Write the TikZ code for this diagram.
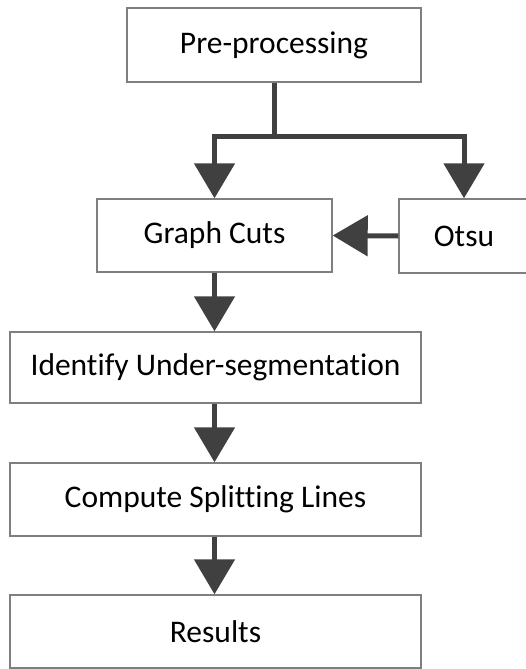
\documentclass[tikz,border=0pt]{standalone}
\usepackage{fontspec}
\setmainfont{Carlito}[Ligatures=NoCommon]
\usetikzlibrary{arrows.meta}
\definecolor{boxline}{HTML}{7F7F7F}
\definecolor{arrowc}{HTML}{404040}
\begin{document}
\begin{tikzpicture}[x=1pt,y=-1pt,
  box/.style={draw=boxline,line width=1.4pt,fill=white,rectangle,inner sep=0pt,
    font=\fontsize{31.5}{36}\selectfont,text=black},
  flow/.style={draw=arrowc,line width=5pt,-{Triangle[width=40pt,length=35pt]}},
  plainline/.style={draw=arrowc,line width=5pt}]
\useasboundingbox (0,0) rectangle (526,669);
\node[box,minimum width=294pt,minimum height=74pt] (pre) at (274,45) {Pre-processing};
\node[box,minimum width=235pt,minimum height=73pt] (gc) at (214.5,235.5) {Graph Cuts};
\node[box,minimum width=130pt,minimum height=74pt] (otsu) at (464,236) {Otsu};
\node[box,minimum width=411pt,minimum height=71pt] (id) at (215.5,367.5) {Identify Under-segmentation};
\node[box,minimum width=411pt,minimum height=73pt] (cs) at (215.5,499.5) {Compute Splitting Lines};
\node[box,minimum width=411pt,minimum height=73pt] (res) at (215.5,631.5) {Results};
\coordinate (j) at (274,136);
\draw[plainline] (pre.south) -- (j);
\draw[flow] ([xshift=2.5pt]j) -| (gc.north);
\draw[flow] ([xshift=-2.5pt]j) -| (otsu.north);
\draw[flow] (otsu.west) -- (gc.east);
\draw[flow] (gc.south) -- (gc.south |- id.north);
\draw[flow] (gc.south |- id.south) -- (gc.south |- cs.north);
\draw[flow] (gc.south |- cs.south) -- (gc.south |- res.north);
\end{tikzpicture}
\end{document}
